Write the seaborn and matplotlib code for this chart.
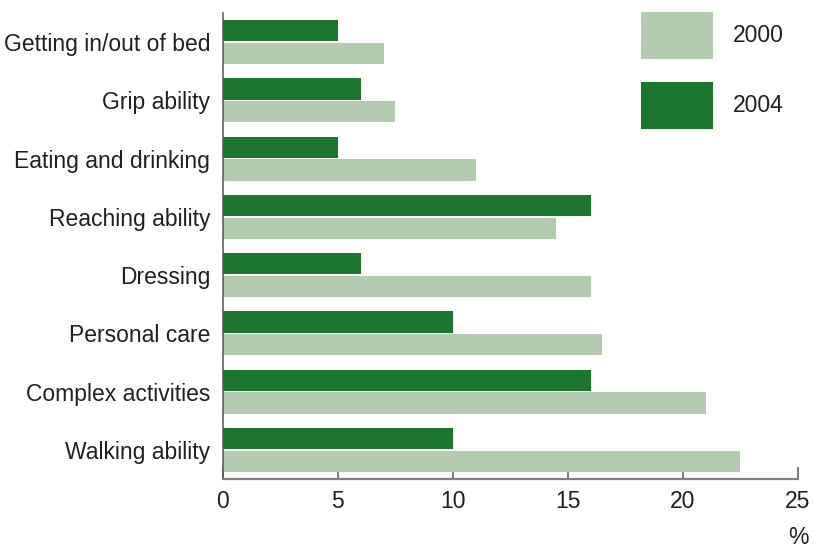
import matplotlib
matplotlib.use("Agg")
import matplotlib.pyplot as plt
import seaborn as sns
import pandas as pd
from matplotlib.patches import Patch

# Share of people reporting each difficulty (%)
activities = [
    "Getting in/out of bed",
    "Grip ability",
    "Eating and drinking",
    "Reaching ability",
    "Dressing",
    "Personal care",
    "Complex activities",
    "Walking ability",
]
values_2000 = [7, 7.5, 11, 14.5, 16, 16.5, 21, 22.5]
values_2004 = [5, 6, 5, 16, 6, 10, 16, 10]
years = ["2000", "2004"]
x_ticks = [0, 5, 10, 15, 20, 25]

light_green = "#b3cbaf"
dark_green = "#1c772e"
text_color = "#231f20"
axis_gray = "#808080"
font_size = 16.5

df = pd.DataFrame({
    "activity": activities * 2,
    "value": values_2000 + values_2004,
    "year": [years[0]] * len(activities) + [years[1]] * len(activities),
})

sns.set_theme(style="white")
plt.rcParams["font.family"] = ["Liberation Sans", "DejaVu Sans"]

fig = plt.figure(figsize=(8.13, 5.5), dpi=100)
ax = fig.add_axes([0.2737, 0.1291, 0.9815 - 0.2737, 0.9764 - 0.1291])

sns.barplot(
    data=df, y="activity", x="value", hue="year",
    order=activities, hue_order=["2004", "2000"],
    palette={"2000": light_green, "2004": dark_green},
    saturation=1, orient="h", width=0.78, gap=0.06, errorbar=None,
    linewidth=0, legend=False, ax=ax,
)

ax.set_xlim(0, 25)
ax.set_ylim(7.5, -0.5)
ax.set_xticks(x_ticks)
ax.set_xticklabels([str(t) for t in x_ticks])
ax.set_xlabel("")
ax.set_ylabel("")

for side in ("top", "right"):
    ax.spines[side].set_visible(False)
ax.spines["bottom"].set_color(axis_gray)
ax.spines["bottom"].set_linewidth(1.6)
ax.spines["left"].set_color("#555555")
ax.spines["left"].set_linewidth(1.1)

ax.tick_params(axis="x", direction="in", length=9, width=1.1, color="#555555",
               pad=8, labelsize=font_size, labelcolor=text_color, bottom=True)
ax.tick_params(axis="y", length=0, pad=9, labelsize=font_size, labelcolor=text_color)

ax.text(1.0, -0.125, "%", transform=ax.transAxes, ha="center", va="center",
        fontsize=font_size, color=text_color)

handles = [Patch(facecolor=light_green, edgecolor="none", label="2000"),
           Patch(facecolor=dark_green, edgecolor="none", label="2004")]
fig.legend(handles=handles, loc="upper left",
           bbox_to_anchor=(641 / 813, 1 - 12 / 550),
           frameon=False, fontsize=font_size, labelcolor=text_color,
           handlelength=3.14, handleheight=2.78, labelspacing=1.0,
           handletextpad=0.85, borderpad=0, borderaxespad=0)

fig.savefig("out.png", dpi=100)
